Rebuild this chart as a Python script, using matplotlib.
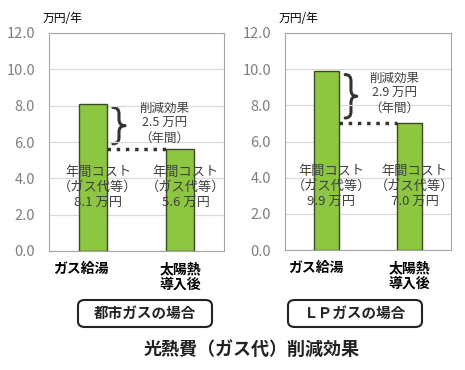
import matplotlib
matplotlib.use("Agg")
import matplotlib.pyplot as plt
from matplotlib.path import Path
from matplotlib.patches import PathPatch, FancyBboxPatch

plt.rcParams['font.family'] = ['Noto Sans CJK JP', 'DejaVu Sans']

# data
categories = ["ガス給湯", "太陽熱\n導入後"]
city_gas = [8.1, 5.6]
lp_gas = [9.9, 7.0]
panel_names = ["都市ガスの場合", "ＬＰガスの場合"]
yticks = [0, 2, 4, 6, 8, 10, 12]
unit = "万円/年"
title = "光熱費（ガス代）削減効果"

bar_color = '#8DC641'
edge_color = '#3f4a22'


def brace(ax, x0, w, y0, y1, d=0.35):
    ym = (y0 + y1) / 2
    xm = x0 + w / 2
    verts = [(x0, y1), (xm, y1), (xm, y1 - d), (xm, ym + d), (xm, ym), (x0 + w, ym),
             (xm, ym), (xm, ym - d), (xm, y0 + d), (xm, y0), (x0, y0)]
    codes = [Path.MOVETO, Path.CURVE3, Path.CURVE3, Path.LINETO, Path.CURVE3, Path.CURVE3,
             Path.CURVE3, Path.CURVE3, Path.LINETO, Path.CURVE3, Path.CURVE3]
    ax.add_patch(PathPatch(Path(verts, codes), fill=False, lw=2.2, color='#333333',
                           capstyle='round', joinstyle='round'))


def panel(ax, vals, width):
    x = list(range(len(vals)))
    ax.bar(x, vals, width=width, color=bar_color, edgecolor=edge_color, lw=1, zorder=3)
    ax.set_xlim(-0.5, 1.5)
    ax.set_ylim(0, 12)
    ax.set_yticks(yticks)
    ax.set_yticklabels(["%.1f" % v for v in yticks], color='#7f7f7f', fontsize=10.5)
    ax.tick_params(axis='y', length=0, pad=10)
    ax.set_xticks([])
    ax.grid(axis='y', color='#d9d9d9', lw=0.9, zorder=0)
    for s in ax.spines.values():
        s.set_color('#a6a6a6')
    ax.text(0.08, 1.035, unit, transform=ax.transAxes, ha='center', va='bottom', fontsize=8.5)

    # cost text inside bars
    for i, v in enumerate(vals):
        ax.text(i + 0.06, 3.5, "年間コスト\n（ガス代等）\n%.1f 万円" % v, ha='center', va='center',
                fontsize=9.5, color='#404040', linespacing=1.2, zorder=4)

    # saving
    lo, hi = vals[1], vals[0]
    ax.plot([width / 2, 1 - width / 2], [lo, lo], ls=':', lw=2.5, color='#333333', zorder=4)
    brace(ax, width / 2 + 0.07, 0.14, lo + 0.3, hi - 0.2)
    ax.text(0.82, (lo + hi) / 2 + 0.2, "削減効果\n%.1f 万円\n（年間）" % (hi - lo), ha='center',
            va='center', fontsize=9, color='#404040', linespacing=1.2)

    # category labels
    ax.text(-0.13, -0.05, categories[0], transform=ax.get_xaxis_transform(), ha='center', va='top',
            fontsize=10, fontweight='bold')
    ax.text(1, -0.05, categories[1], transform=ax.get_xaxis_transform(), ha='center', va='top',
            fontsize=10, fontweight='bold', linespacing=1.2)


fig = plt.figure(figsize=(4.65, 3.7), dpi=100)
ax1 = fig.add_axes([49 / 465, 1 - 251 / 370, 175 / 465, 218 / 370])
ax2 = fig.add_axes([285 / 465, 1 - 250 / 370, 166 / 465, 217 / 370])
panel(ax1, city_gas, 0.32)
panel(ax2, lp_gas, 0.31)

for name, cx in zip(panel_names, [145, 355]):
    fig.patches.append(FancyBboxPatch(((cx - 67) / 465, 1 - 327 / 370), 134 / 465, 27 / 370,
                                      boxstyle="round,pad=0,rounding_size=0.015",
                                      transform=fig.transFigure, fill=False, lw=1.5, ec='#222222'))
    fig.text(cx / 465, 1 - 313 / 370, name, ha='center', va='center', fontsize=10.5, fontweight='bold',
             color='#222222')

fig.text(252 / 465, 1 - 350 / 370, title, ha='center', va='center', fontsize=13, fontweight='bold',
         color='#222222')

fig.savefig("out.png", dpi=100)
